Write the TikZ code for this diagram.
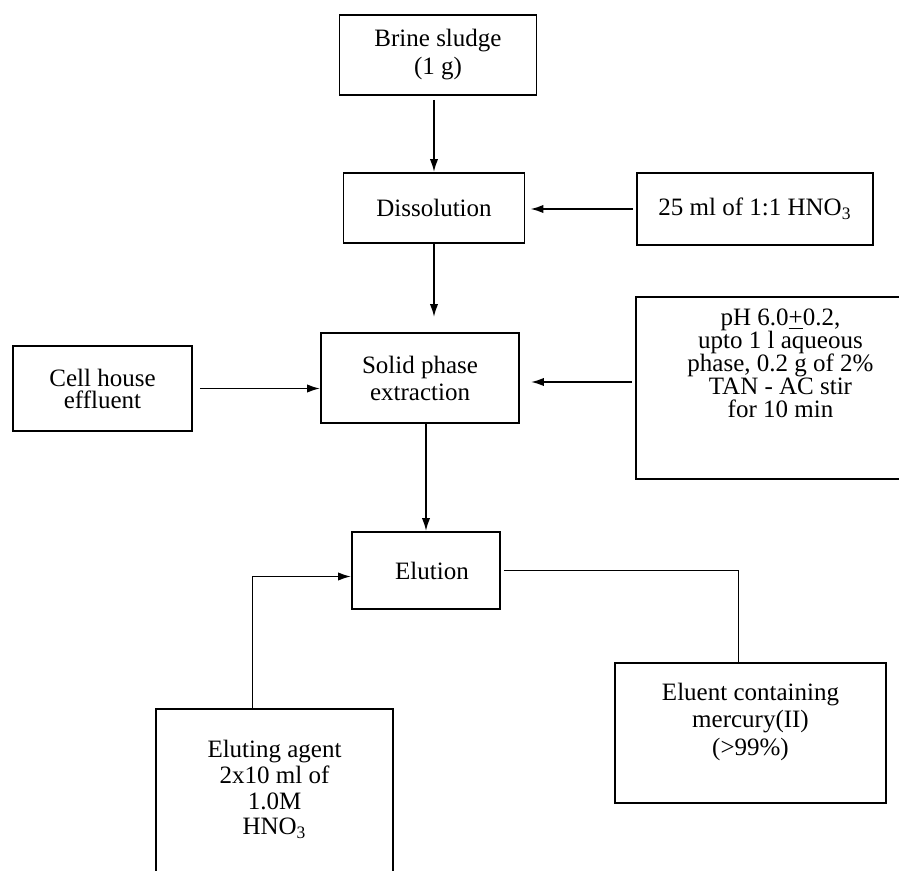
\documentclass[tikz,border=0pt]{standalone}
\usepackage{fontspec}
\setmainfont{Liberation Serif}
\usetikzlibrary{arrows.meta}

\tikzset{
  box/.style={draw, line width=0.95pt, rectangle, align=center, inner sep=1.5pt,
    font=\fontsize{12.5}{13.5}\selectfont},
  flow/.style={line width=0.9pt, -{Latex[length=6.5pt,width=4.2pt]}},
}

\begin{document}
\begin{tikzpicture}[x=0.5pt,y=-0.5pt]
  \useasboundingbox (0,0) rectangle (899,871);
  \clip (0,0) rectangle (899,871);
  % main line, top to bottom
  \node[box, minimum width=98.5pt, minimum height=40pt, font=\fontsize{12.5}{14}\selectfont] (brine) at (438,55) {Brine sludge\\(1 g)};
  \node[box, minimum width=90.5pt, minimum height=35pt] (diss) at (434,208) {Dissolution};
  \node[box, minimum width=99pt, minimum height=45pt] (solid) at (420,378) {Solid phase\\extraction};
  \node[box, minimum width=74pt, minimum height=38.5pt] (elution) at (426,570.5) {\hspace*{6pt}Elution};
  % feeds and products
  \node[box, minimum width=118pt, minimum height=36pt] (hno) at (755,209) {25 ml of 1:1 HNO\textsubscript{3}};
  \node[box, minimum width=89.5pt, minimum height=42.5pt, font=\fontsize{12.5}{11}\selectfont] (cell) at (102.5,388.5) {Cell house\\effluent};
  \node[box, minimum width=144.5pt, minimum height=91pt, font=\fontsize{12.5}{11.5}\selectfont] (ph) at (780.5,388)
    {pH 6.0\underline{+}0.2,\\upto 1 l aqueous\\phase, 0.2 g of 2\%\\TAN - AC stir\\for 10 min\\[13pt]};
  \node[box, minimum width=135.5pt, minimum height=70pt, font=\fontsize{12.5}{13.75}\selectfont] (eluent) at (750.5,733) {Eluent containing\\mercury(II)\\(>99\%)\\[0pt]};
  \node[box, minimum width=118.5pt, minimum height=95.5pt, font=\fontsize{12.5}{12.8}\selectfont] (eluting) at (274.5,804.5) {Eluting agent\\2x10 ml of\\1.0M\\HNO\textsubscript{3}\\[4pt]};

  \draw[flow, shorten <=2pt] (brine.south -| diss.north) -- (diss.north);
  \draw[flow, shorten <=1.5pt, shorten >=2.5pt] (hno.west) -- (hno.west -| diss.east);
  \draw[flow, shorten >=7.5pt] (diss.south) -- (diss.south |- solid.north);
  \draw[flow, shorten <=3.5pt] (cell.east) -- (cell.east -| solid.west);
  \draw[flow, shorten <=1.5pt, shorten >=5.5pt] ([yshift=3pt]ph.west) -- ([yshift=3pt]ph.west -| solid.east);
  \draw[flow] (solid.south -| elution.north) -- (elution.north);
  \draw[flow] ([xshift=-11pt]eluting.north) |- ([yshift=-3pt]elution.west);
  \draw[line width=0.9pt] ([xshift=1.5pt]elution.east) -| ([xshift=-6pt]eluent.north);
\end{tikzpicture}
\end{document}
